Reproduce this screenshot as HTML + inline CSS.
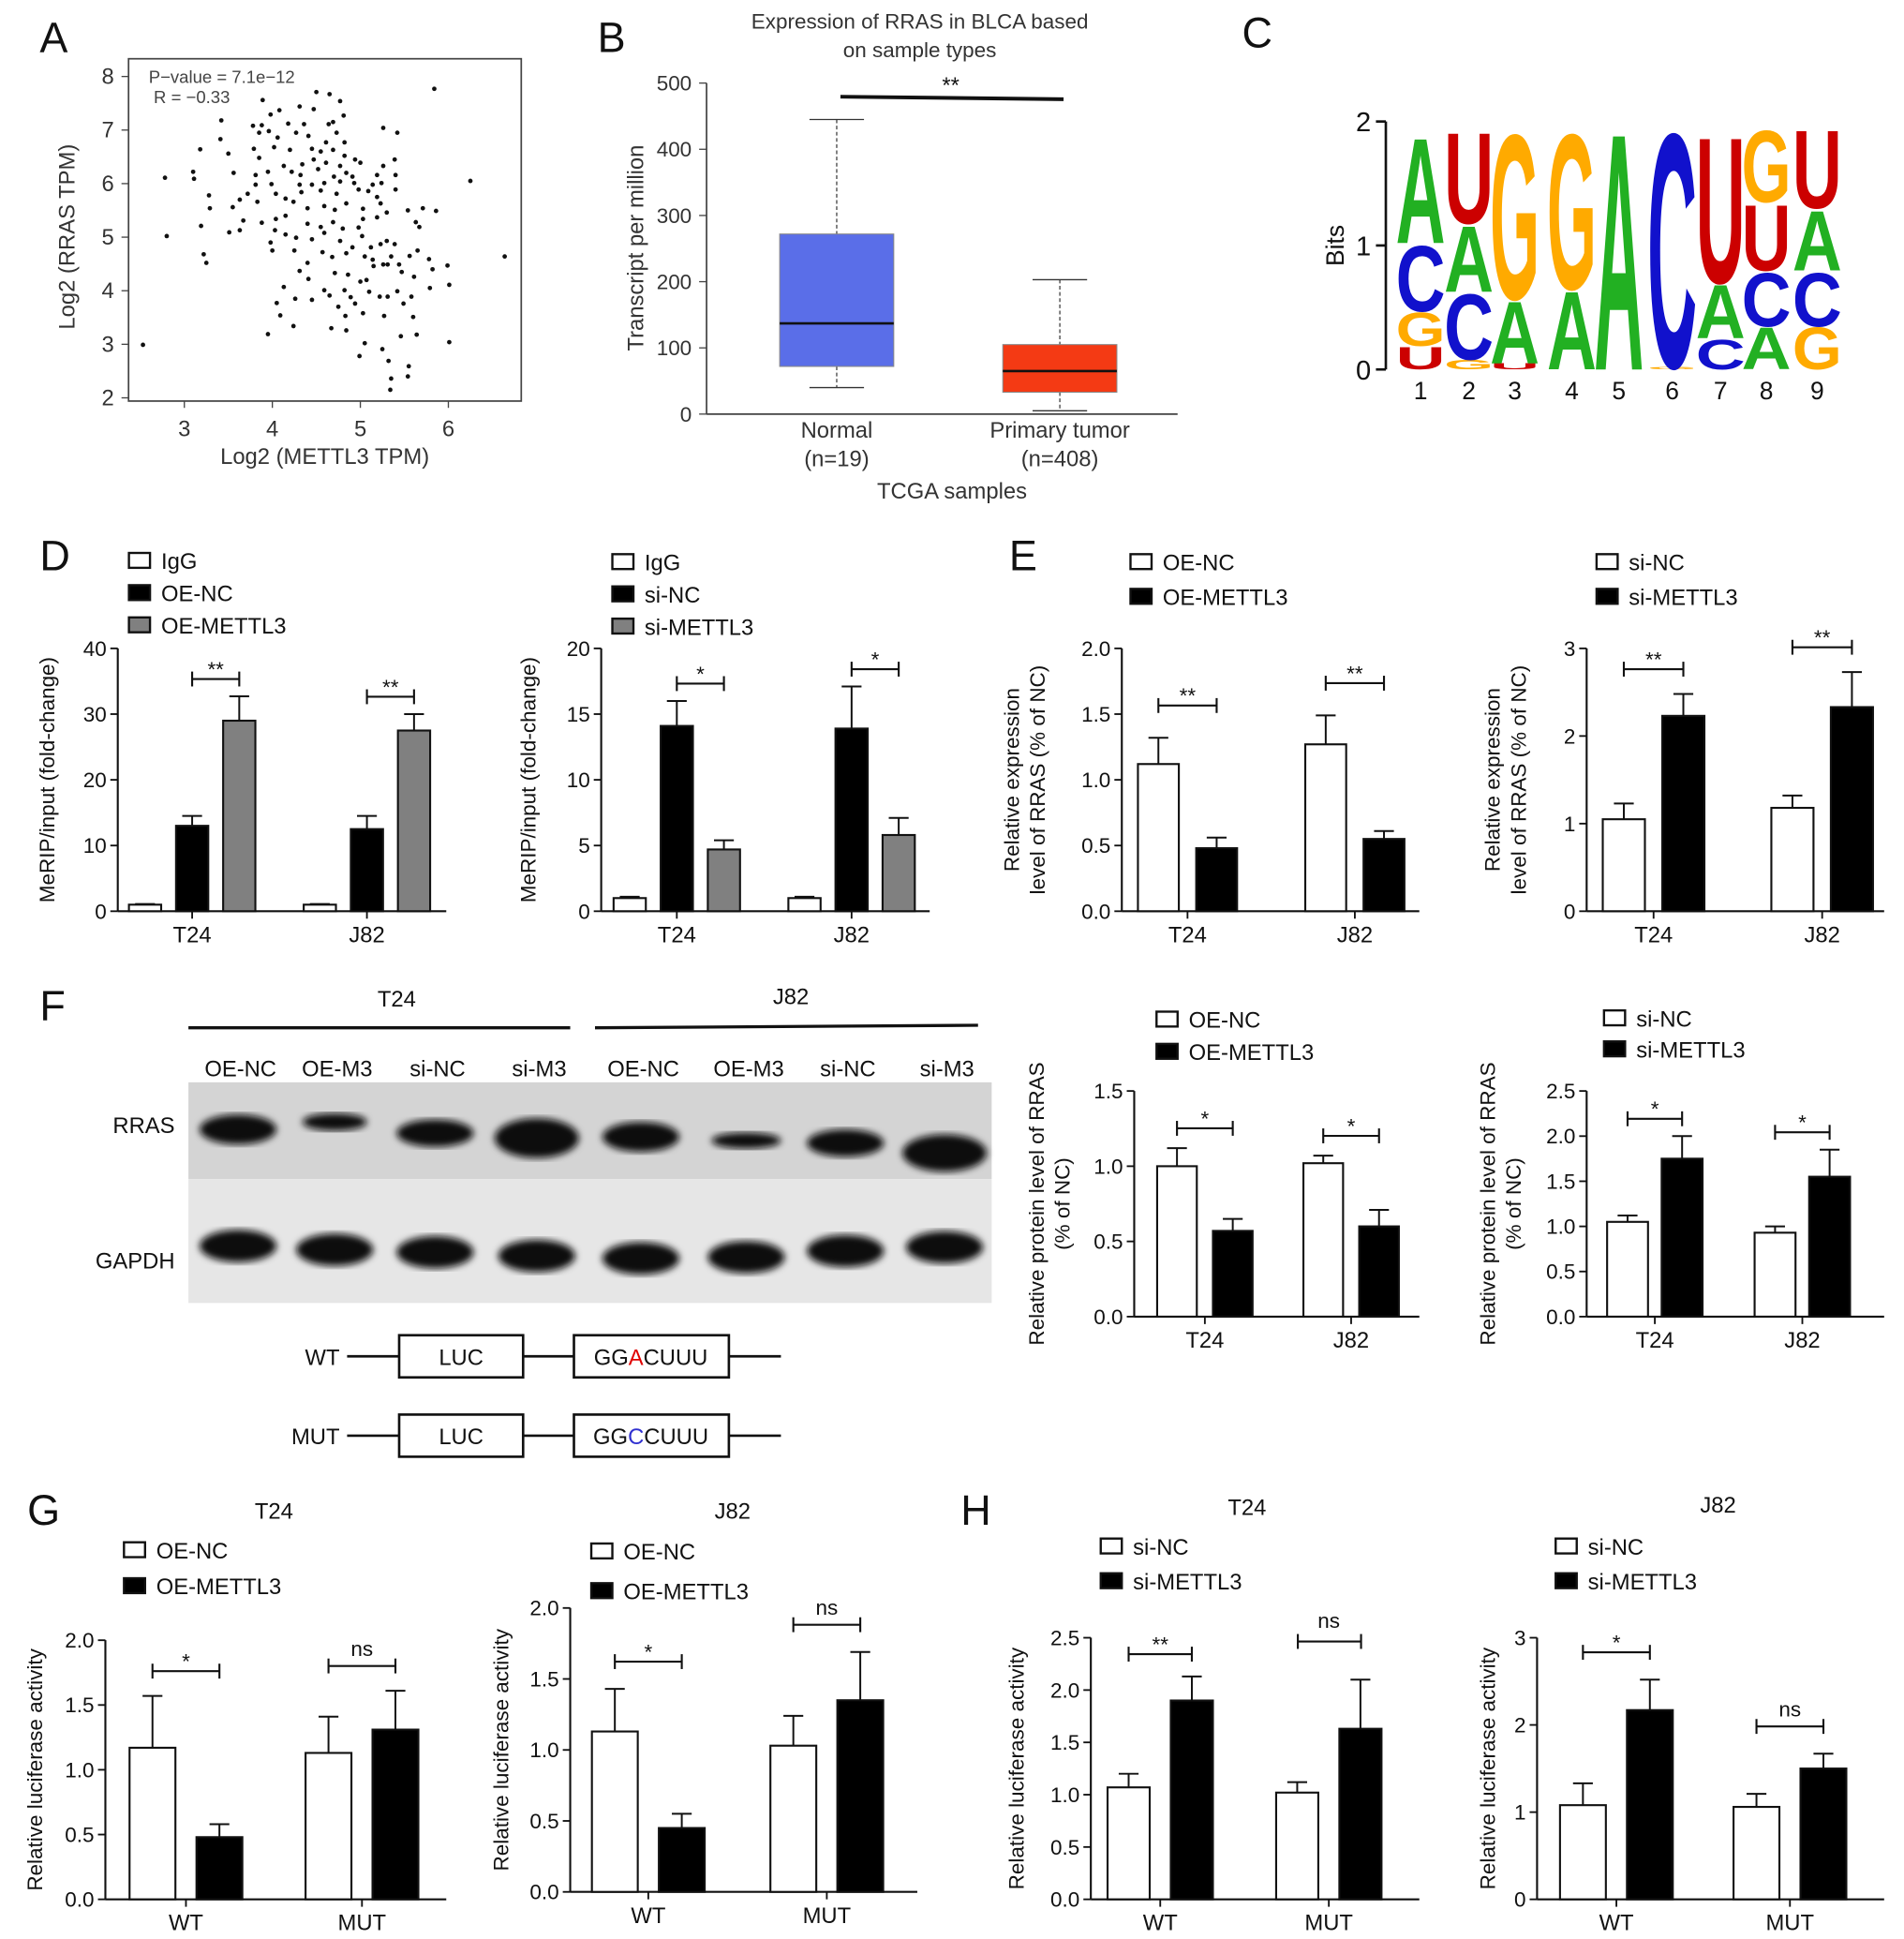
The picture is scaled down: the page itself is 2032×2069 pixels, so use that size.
<!DOCTYPE html>
<html><head><meta charset="utf-8"><style>
html,body{margin:0;padding:0;background:#fff;}
svg{display:block;font-family:"Liberation Sans",Arial,sans-serif;}
</style></head><body>
<svg id="fig" width="2032" height="2069" viewBox="0 0 1536 1564" xmlns="http://www.w3.org/2000/svg">
<g id="root"></g>
</svg>
<script>
// ---------- Panel A data ----------
const A_x=[5.84,4.50,4.65,4.77,3.89,4.31,4.47,4.08,3.98,4.81,3.42,3.78,3.88,4.18,4.36,4.64,4.69,5.26,5.42,3.41,3.85,3.96,4.06,4.27,4.41,4.73,4.61,4.82,3.18,3.50,3.79,4.02,4.20,4.45,4.55,4.69,4.82,4.94,5.00,5.39,3.85,4.13,4.34,4.47,4.61,4.77,5.26,2.78,3.10,3.11,3.56,3.81,3.95,4.22,4.32,4.52,4.70,4.84,4.91,5.19,5.40,6.25,3.81,3.99,4.31,4.45,4.59,4.77,4.93,5.14,5.24,5.40,3.28,3.72,4.04,4.15,4.33,4.55,4.73,4.98,5.09,5.19,3.29,3.63,3.55,3.83,4.24,4.40,4.59,4.71,4.84,5.03,5.23,5.30,5.54,5.71,5.86,3.19,2.80,3.51,3.63,3.67,3.88,4.04,4.15,4.40,4.55,4.69,4.80,4.98,5.03,5.19,5.63,5.67,3.98,4.03,4.15,4.27,4.45,4.59,4.77,4.91,5.02,5.12,5.23,5.30,5.39,4.00,4.25,4.57,4.68,4.84,5.05,5.14,5.35,5.56,5.65,6.64,3.22,3.25,4.40,4.31,4.41,4.71,4.86,5.00,5.07,5.15,5.26,5.31,5.44,5.47,5.78,5.82,5.99,5.61,5.79,6.01,4.13,4.59,4.65,4.82,4.89,5.10,5.22,5.31,5.42,5.58,4.05,4.26,4.45,4.75,4.94,5.49,4.09,4.83,5.03,5.27,5.60,4.24,4.67,4.84,3.95,2.53,5.46,5.64,6.01,5.05,5.25,4.99,5.32,5.55,5.54,5.35,5.34];
const A_y=[7.77,7.71,7.67,7.54,7.56,7.44,7.39,7.37,7.29,7.27,7.18,7.08,7.09,7.12,7.11,7.11,7.15,7.04,6.95,6.83,6.95,6.98,6.86,6.95,6.89,6.95,6.77,6.77,6.64,6.56,6.65,6.68,6.63,6.65,6.60,6.63,6.52,6.45,6.39,6.45,6.48,6.33,6.36,6.45,6.39,6.33,6.33,6.11,6.22,6.09,6.20,6.16,6.22,6.22,6.16,6.27,6.13,6.20,6.13,6.16,6.16,6.05,5.98,5.99,5.98,5.98,6.01,6.04,6.01,5.98,6.01,5.89,5.78,5.81,5.81,5.72,5.84,5.87,5.81,5.89,5.86,5.75,5.54,5.70,5.56,5.66,5.66,5.54,5.58,5.51,5.63,5.53,5.63,5.46,5.50,5.54,5.49,5.21,5.02,5.09,5.13,5.31,5.27,5.34,5.40,5.25,5.19,5.28,5.16,5.18,5.34,5.37,5.28,5.19,4.90,5.13,5.05,4.99,4.96,5.08,4.93,4.81,5.02,4.81,4.87,4.93,4.87,4.75,4.75,4.72,4.63,4.70,4.64,4.58,4.64,4.65,4.75,4.64,4.68,4.52,4.52,4.37,4.22,4.33,4.30,4.17,4.20,4.46,4.49,4.49,4.49,4.35,4.59,4.40,4.47,4.26,4.05,4.11,4.07,4.01,3.91,4.01,3.88,3.98,3.89,3.89,3.99,3.89,3.77,3.85,3.83,3.70,3.76,3.76,3.54,3.53,3.58,3.53,3.51,3.34,3.30,3.26,3.19,2.99,3.15,3.18,3.04,3.02,2.91,2.78,2.69,2.59,2.40,2.36,2.15];
const A_xticks=[3,4,5,6];
const A_yticks=[2,3,4,5,6,7,8];
// ---------- Panel B data ----------
const B_cats=["Normal","Primary tumor"];
const B_n=["(n=19)","(n=408)"];
const B_min=[40,5], B_q1=[72,33], B_med=[137,65], B_q3=[272,105], B_max=[445,203];
const B_ticks=[0,100,200,300,400,500];
// ---------- Panel C data (bottom -> top) ----------
const C_pos=[1,2,3,4,5,6,7,8,9];
const C_letters=[["U","G","C","A"],["G","C","A","U"],["U","A","G"],["A","G"],["A"],["G","C"],["C","A","U"],["A","C","U","G"],["G","C","A","U"]];
const C_bits=[[0.19,0.28,0.55,0.88],[0.08,0.55,0.55,0.76],[0.05,0.52,1.38],[0.65,1.3],[1.98],[0.02,1.96],[0.25,0.45,1.22],[0.35,0.45,0.55,0.6],[0.35,0.45,0.5,0.65]];
// ---------- Bar chart data ----------
const D1_cats=["T24","J82"], D1_igg=[1.0,1.0], D1_nc=[13.0,12.5], D1_m=[29.0,27.5];
const D1_eigg=[0.1,0.1], D1_enc=[1.5,2.0], D1_em=[3.7,2.5];
const D2_cats=["T24","J82"], D2_igg=[1.0,1.0], D2_nc=[14.1,13.9], D2_m=[4.7,5.8];
const D2_eigg=[0.1,0.1], D2_enc=[1.9,3.2], D2_em=[0.7,1.3];
const E1_cats=["T24","J82"], E1_nc=[1.12,1.27], E1_m=[0.48,0.55], E1_enc=[0.2,0.22], E1_em=[0.08,0.06];
const E2_cats=["T24","J82"], E2_nc=[1.05,1.18], E2_m=[2.23,2.33], E2_enc=[0.18,0.14], E2_em=[0.25,0.4];
const F1_cats=["T24","J82"], F1_nc=[1.0,1.02], F1_m=[0.57,0.6], F1_enc=[0.12,0.05], F1_em=[0.08,0.11];
const F2_cats=["T24","J82"], F2_nc=[1.05,0.93], F2_m=[1.75,1.55], F2_enc=[0.07,0.07], F2_em=[0.25,0.3];
const G1_cats=["WT","MUT"], G1_nc=[1.17,1.13], G1_m=[0.48,1.31], G1_enc=[0.4,0.28], G1_em=[0.1,0.3];
const G2_cats=["WT","MUT"], G2_nc=[1.13,1.03], G2_m=[0.45,1.35], G2_enc=[0.3,0.21], G2_em=[0.1,0.34];
const H1_cats=["WT","MUT"], H1_nc=[1.07,1.02], H1_m=[1.9,1.63], H1_enc=[0.13,0.1], H1_em=[0.23,0.47];
const H2_cats=["WT","MUT"], H2_nc=[1.08,1.06], H2_m=[2.17,1.5], H2_enc=[0.25,0.15], H2_em=[0.35,0.17];

const NS="http://www.w3.org/2000/svg";
const root=document.getElementById('root');
function el(tag,attrs,parent,text){const e=document.createElementNS(NS,tag);for(const k in attrs)e.setAttribute(k,attrs[k]);if(text!==undefined)e.textContent=text;(parent||root).appendChild(e);return e;}
function txt(x,y,s,size,anchor,parent,extra){const t=el('text',Object.assign({x:x,y:y,'font-size':size,'text-anchor':anchor||'middle',fill:'#111'},extra||{}),parent,s);return t;}

// ---------- Panel letters ----------
[["A",32,42],["B",482,42],["C",1002,38],["D",32,460],["E",814,460],["F",32,823],["G",22,1230],["H",775,1230]].forEach(p=>{
  const t=txt(p[1],p[2],p[0],34,'start');
  
  
});

// ---------- Panel A ----------
(function(){
  const g=el('g',{});
  
  
  const sx=v=>148.7+(v-3)*71, sy=v=>61.7+(8-v)*43.2;
  el('rect',{x:103.7,y:47.4,width:316.8,height:276.1,fill:'none',stroke:'#444','stroke-width':1.3},g);
  A_xticks.forEach(v=>{el('line',{x1:sx(v),x2:sx(v),y1:323.5,y2:329,stroke:'#444'},g);txt(sx(v),352,String(v),18,'middle',g,{fill:'#333'});});
  A_yticks.forEach(v=>{el('line',{x1:98,x2:103.7,y1:sy(v),y2:sy(v),stroke:'#444'},g);txt(92,sy(v)+6,String(v),18,'end',g,{fill:'#333'});});
  for(let i=0;i<A_x.length;i++){
    const c=el('circle',{cx:sx(A_x[i]),cy:sy(A_y[i]),r:1.8,fill:'#111'},g);
    
    
  }
  txt(120,67,"P−value = 7.1e−12",14,'start',g,{fill:'#444'});
  txt(124,83,"R = −0.33",14,'start',g,{fill:'#444'});
  txt(262,374,"Log2 (METTL3 TPM)",18,'middle',g,{fill:'#333'});
  txt(0,0,"Log2 (RRAS TPM)",18,'middle',g,{fill:'#333',transform:'translate(60,191) rotate(-90)'});
})();

// ---------- Panel B ----------
(function(){
  const g=el('g',{});
  
  
  const y0=334, k=(334-67)/500, sy=v=>y0-v*k;
  txt(742,23,"Expression of RRAS in BLCA based",17,'middle',g,{fill:'#333'});
  txt(742,46,"on sample types",17,'middle',g,{fill:'#333'});
  el('line',{x1:570,x2:570,y1:67,y2:334,stroke:'#444','stroke-width':1.3},g);
  el('line',{x1:570,x2:950,y1:334,y2:334,stroke:'#444','stroke-width':1.3},g);
  B_ticks.forEach(v=>{el('line',{x1:564,x2:570,y1:sy(v),y2:sy(v),stroke:'#444'},g);txt(558,sy(v)+6,String(v),17,'end',g,{fill:'#333'});});
  const cx=[675,855], col=['#5a6ee8','#f43a14'];
  for(let i=0;i<2;i++){
    el('line',{x1:cx[i],x2:cx[i],y1:sy(B_max[i]),y2:sy(B_q3[i]),stroke:'#444','stroke-dasharray':'3,2'},g);
    el('line',{x1:cx[i],x2:cx[i],y1:sy(B_q1[i]),y2:sy(B_min[i]),stroke:'#444','stroke-dasharray':'3,2'},g);
    el('line',{x1:cx[i]-22,x2:cx[i]+22,y1:sy(B_max[i]),y2:sy(B_max[i]),stroke:'#333'},g);
    el('line',{x1:cx[i]-22,x2:cx[i]+22,y1:sy(B_min[i]),y2:sy(B_min[i]),stroke:'#333'},g);
    const r=el('rect',{x:cx[i]-46,y:sy(B_q3[i]),width:92,height:sy(B_q1[i])-sy(B_q3[i]),fill:col[i],stroke:'#888','stroke-width':0.8},g);
    
    
    el('line',{x1:cx[i]-46,x2:cx[i]+46,y1:sy(B_med[i]),y2:sy(B_med[i]),stroke:'#111','stroke-width':2},g);
    txt(cx[i],353,B_cats[i],18,'middle',g,{fill:'#333'});
    txt(cx[i],376,B_n[i],18,'middle',g,{fill:'#333'});
  }
  el('line',{x1:678,x2:858,y1:78,y2:80,stroke:'#111','stroke-width':3},g);
  txt(767,75,"**",18,'middle',g);
  txt(768,402,"TCGA  samples",18,'middle',g,{fill:'#333'});
  txt(0,0,"Transcript per million",18,'middle',g,{fill:'#333',transform:'translate(519,200) rotate(-90)'});
})();

// ---------- Panel C ----------
(function(){
  const g=el('g',{});
  
  
  const y0=298, k=100, sy=v=>y0-v*k;
  const cx=[1146,1185,1222,1268,1306,1349,1388,1425,1466];
  const colors={A:'#22b022',C:'#1111cc',G:'#ffaa00',U:'#cc0000'};
  el('line',{x1:1118,x2:1118,y1:98,y2:298,stroke:'#111','stroke-width':2},g);
  [0,1,2].forEach(v=>{el('line',{x1:1110,x2:1118,y1:sy(v),y2:sy(v),stroke:'#111','stroke-width':2},g);txt(1106,sy(v)+8,String(v),22,'end',g);});
  txt(0,0,"Bits",20,'middle',g,{transform:'translate(1084,198) rotate(-90)'});
  for(let i=0;i<C_pos.length;i++){
    let base=0;
    const w=40;
    for(let j=0;j<C_letters[i].length;j++){
      const h=C_bits[i][j]*k;
      const yb=sy(base);
      base+=C_bits[i][j];
      if(h<1)continue;
      const t=el('text',{x:0,y:0,'font-size':100,'font-weight':'bold','text-anchor':'start',fill:colors[C_letters[i][j]],textLength:72,lengthAdjust:'spacingAndGlyphs',transform:`translate(${cx[i]-w/2},${yb}) scale(${w/72},${h/72.5})`},g,C_letters[i][j]);
      
      
    }
    txt(cx[i],322,String(C_pos[i]),20,'middle',g);
  }
})();

// ---------- Generic bar chart ----------
function barChart(name,cfg,cats,series,errs,fills,sigs){
  const g=el('g',{});
  
  
  const sy=v=>cfg.y0-(v/cfg.ymax)*(cfg.y0-cfg.yTop);
  el('line',{x1:cfg.ax0,x2:cfg.ax0,y1:cfg.yTop,y2:cfg.y0,stroke:'#111','stroke-width':1.6},g);
  el('line',{x1:cfg.ax0,x2:cfg.ax1,y1:cfg.y0,y2:cfg.y0,stroke:'#111','stroke-width':1.6},g);
  cfg.ticks.forEach(v=>{el('line',{x1:cfg.ax0-6,x2:cfg.ax0,y1:sy(v),y2:sy(v),stroke:'#111','stroke-width':1.4},g);txt(cfg.ax0-9,sy(v)+6,cfg.fmt(v),17,'end',g);});
  const n=series.length;
  const tops=[];
  for(let c=0;c<cats.length;c++){
    const cx=cfg.centers[c];
    el('line',{x1:cx,x2:cx,y1:cfg.y0,y2:cfg.y0+6,stroke:'#111','stroke-width':1.4},g);
    txt(cx,cfg.y0+25,cats[c],18,'middle',g);
    tops.push([]);
    for(let s=0;s<n;s++){
      const bx=cx+(s-(n-1)/2)*cfg.step;
      const v=series[s][c], e=errs[s][c];
      const r=el('rect',{x:bx-cfg.bw/2,y:sy(v),width:cfg.bw,height:cfg.y0-sy(v),fill:fills[s],stroke:'#111','stroke-width':1.6},g);
      
      
      el('line',{x1:bx,x2:bx,y1:sy(v),y2:sy(v+e),stroke:'#111','stroke-width':1.5},g);
      el('line',{x1:bx-8,x2:bx+8,y1:sy(v+e),y2:sy(v+e),stroke:'#111','stroke-width':1.5},g);
      tops[c].push({x:bx,y:sy(v+e)});
    }
  }
  sigs.forEach(sg=>{
    const a=tops[sg[0]][sg[1]], b=tops[sg[0]][sg[2]];
    const y=Math.min(a.y,b.y)-cfg.gap;
    el('line',{x1:a.x,x2:b.x,y1:y,y2:y,stroke:'#111','stroke-width':1.6},g);
    el('line',{x1:a.x,x2:a.x,y1:y-6,y2:y+6,stroke:'#111','stroke-width':1.6},g);
    el('line',{x1:b.x,x2:b.x,y1:y-6,y2:y+6,stroke:'#111','stroke-width':1.6},g);
    txt((a.x+b.x)/2,y-(sg[3]==='ns'?8:2),sg[3],17,'middle',g);
  });
  cfg.ylab.forEach((l,i)=>{txt(0,0,l,17,'middle',g,{transform:`translate(${cfg.ylx+i*21},${(cfg.y0+cfg.yTop)/2}) rotate(-90)`});});
  return g;
}
function legend(x,y,items,dy){
  items.forEach((it,i)=>{
    const r=el('rect',{x:x,y:y+i*dy-7,width:17,height:12,fill:it[1],stroke:'#111','stroke-width':1.8});
    
    
    const t=txt(x+26,y+i*dy+6,it[0],18,'start');
    
    
  });
}
const W='#fff',B='#000',GR='#808080';
const f0=v=>String(v), f1=v=>v.toFixed(1);

barChart('chart-d1',{ax0:95,ax1:360,y0:735,yTop:523,ymax:40,ticks:[0,10,20,30,40],fmt:f0,centers:[155,296],bw:26,step:38,gap:14,ylab:['MeRIP/input (fold-change)'],ylx:44},D1_cats,[D1_igg,D1_nc,D1_m],[D1_eigg,D1_enc,D1_em],[W,B,GR],[[0,1,2,'**'],[1,1,2,'**']]);
legend(104,453,[['IgG',W],['OE-NC',B],['OE-METTL3',GR]],26);
barChart('chart-d2',{ax0:485,ax1:750,y0:735,yTop:523,ymax:20,ticks:[0,5,10,15,20],fmt:f0,centers:[546,687],bw:26,step:38,gap:14,ylab:['MeRIP/input (fold-change)'],ylx:432},D2_cats,[D2_igg,D2_nc,D2_m],[D2_eigg,D2_enc,D2_em],[W,B,GR],[[0,1,2,'*'],[1,1,2,'*']]);
legend(494,454,[['IgG',W],['si-NC',B],['si-METTL3',GR]],26);
barChart('chart-e1',{ax0:905,ax1:1145,y0:735,yTop:523,ymax:2.0,ticks:[0,0.5,1,1.5,2],fmt:f1,centers:[958,1093],bw:33,step:47,gap:26,ylab:['Relative expression','level of RRAS (% of NC)'],ylx:822},E1_cats,[E1_nc,E1_m],[E1_enc,E1_em],[W,B],[[0,0,1,'**'],[1,0,1,'**']]);
legend(912,454,[['OE-NC',W],['OE-METTL3',B]],28);
barChart('chart-e2',{ax0:1280,ax1:1520,y0:735,yTop:523,ymax:3,ticks:[0,1,2,3],fmt:f0,centers:[1334,1470],bw:34,step:48,gap:20,ylab:['Relative expression','level of RRAS (% of NC)'],ylx:1210},E2_cats,[E2_nc,E2_m],[E2_enc,E2_em],[W,B],[[0,0,1,'**'],[1,0,1,'**']]);
legend(1288,454,[['si-NC',W],['si-METTL3',B]],28);
barChart('chart-f1',{ax0:915,ax1:1145,y0:1062,yTop:880,ymax:1.5,ticks:[0,0.5,1,1.5],fmt:f1,centers:[972,1090],bw:32,step:45,gap:16,ylab:['Relative protein level of RRAS','(% of NC)'],ylx:842},F1_cats,[F1_nc,F1_m],[F1_enc,F1_em],[W,B],[[0,0,1,'*'],[1,0,1,'*']]);
legend(933,823,[['OE-NC',W],['OE-METTL3',B]],26);
barChart('chart-f2',{ax0:1280,ax1:1520,y0:1062,yTop:880,ymax:2.5,ticks:[0,0.5,1,1.5,2,2.5],fmt:f1,centers:[1335,1454],bw:33,step:44,gap:14,ylab:['Relative protein level of RRAS','(% of NC)'],ylx:1206},F2_cats,[F2_nc,F2_m],[F2_enc,F2_em],[W,B],[[0,0,1,'*'],[1,0,1,'*']]);
legend(1294,822,[['si-NC',W],['si-METTL3',B]],25);
barChart('chart-g1',{ax0:85,ax1:360,y0:1532,yTop:1323,ymax:2.0,ticks:[0,0.5,1,1.5,2],fmt:f1,centers:[150,292],bw:37,step:54,gap:20,ylab:['Relative luciferase activity'],ylx:34},G1_cats,[G1_nc,G1_m],[G1_enc,G1_em],[W,B],[[0,0,1,'*'],[1,0,1,'ns']]);
legend(100,1251,[['OE-NC',W],['OE-METTL3',B]],29);
txt(221,1225,'T24',18,'middle');
barChart('chart-g2',{ax0:460,ax1:740,y0:1526,yTop:1297,ymax:2.0,ticks:[0,0.5,1,1.5,2],fmt:f1,centers:[523,667],bw:37,step:54,gap:22,ylab:['Relative luciferase activity'],ylx:410},G2_cats,[G2_nc,G2_m],[G2_enc,G2_em],[W,B],[[0,0,1,'*'],[1,0,1,'ns']]);
legend(477,1252,[['OE-NC',W],['OE-METTL3',B]],32);
txt(591,1225,'J82',18,'middle');
barChart('chart-h1',{ax0:880,ax1:1145,y0:1532,yTop:1321,ymax:2.5,ticks:[0,0.5,1,1.5,2,2.5],fmt:f1,centers:[936,1072],bw:34,step:51,gap:18,ylab:['Relative luciferase activity'],ylx:826},H1_cats,[H1_nc,H1_m],[H1_enc,H1_em],[W,B],[[0,0,1,'**']]);
barChart('chart-h2',{ax0:1240,ax1:1520,y0:1532,yTop:1321,ymax:3,ticks:[0,1,2,3],fmt:f0,centers:[1304,1444],bw:37,step:54,gap:22,ylab:['Relative luciferase activity'],ylx:1206},H2_cats,[H2_nc,H2_m],[H2_enc,H2_em],[W,B],[[0,0,1,'*'],[1,0,1,'ns']]);
el('line',{x1:1047,x2:1098,y1:1324,y2:1324,stroke:'#111','stroke-width':1.6});
el('line',{x1:1047,x2:1047,y1:1318,y2:1330,stroke:'#111','stroke-width':1.6});
el('line',{x1:1098,x2:1098,y1:1318,y2:1330,stroke:'#111','stroke-width':1.6});
txt(1072,1313,'ns',17,'middle');
legend(888,1248,[['si-NC',W],['si-METTL3',B]],28);
txt(1006,1222,'T24',18,'middle');
legend(1255,1248,[['si-NC',W],['si-METTL3',B]],28);
txt(1386,1220,'J82',18,'middle');

// ---------- Panel F blot ----------
(function(){
  const g=el('g',{});
  
  
  const defs=el('defs',{},g);
  const f=el('filter',{id:'blur'},defs);el('feGaussianBlur',{stdDeviation:2.8},f);
  txt(320,812,'T24',18,'middle',g);txt(638,810,'J82',18,'middle',g);
  el('line',{x1:152,x2:460,y1:829,y2:829,stroke:'#111','stroke-width':2.5},g);
  el('line',{x1:480,x2:789,y1:829,y2:827,stroke:'#111','stroke-width':2.5},g);
  const lanes=['OE-NC','OE-M3','si-NC','si-M3','OE-NC','OE-M3','si-NC','si-M3'];
  const lx=[194,272,353,435,519,604,684,764];
  lanes.forEach((l,i)=>txt(lx[i],868,l,18,'middle',g));
  el('rect',{x:152,y:873,width:648,height:78,fill:'#d4d4d4'},g);
  el('rect',{x:152,y:951,width:648,height:100,fill:'#e6e6e6'},g);
  const rw=[[62,24,911],[52,14,905],[62,22,914],[68,32,918],[62,24,917],[56,13,920],[62,22,922],[68,30,930]];
  rw.forEach((b,i)=>el('ellipse',{cx:lx[i]-2,cy:b[2],rx:b[0]/2,ry:b[1]/2,fill:'#0a0a0a',filter:'url(#blur)'},g));
  const gy=[1005,1008,1010,1013,1015,1014,1009,1006];
  gy.forEach((y,i)=>el('ellipse',{cx:lx[i]-2,cy:y,rx:31,ry:13,fill:'#0a0a0a',filter:'url(#blur)'},g));
  txt(141,914,'RRAS',18,'end',g);txt(141,1023,'GAPDH',18,'end',g);
  [[1094,'A','#e00000','WT'],[1158,'C','#3030d0','MUT']].forEach(c=>{
    const y=c[0];
    el('line',{x1:280,x2:630,y1:y,y2:y,stroke:'#111','stroke-width':2},g);
    el('rect',{x:322,y:y-17,width:100,height:34,fill:'#fff',stroke:'#111','stroke-width':2},g);
    el('rect',{x:463,y:y-17,width:125,height:34,fill:'#fff',stroke:'#111','stroke-width':2},g);
    txt(372,y+7,'LUC',18,'middle',g);
    const t=el('text',{x:525,y:y+7,'font-size':18,'text-anchor':'middle',fill:'#111'},g);
    el('tspan',{},t,'GG');el('tspan',{fill:c[2]},t,c[1]);el('tspan',{},t,'CUUU');
    txt(274,y+7,c[3],18,'end',g);
  });
})();
</script>
</body></html>
